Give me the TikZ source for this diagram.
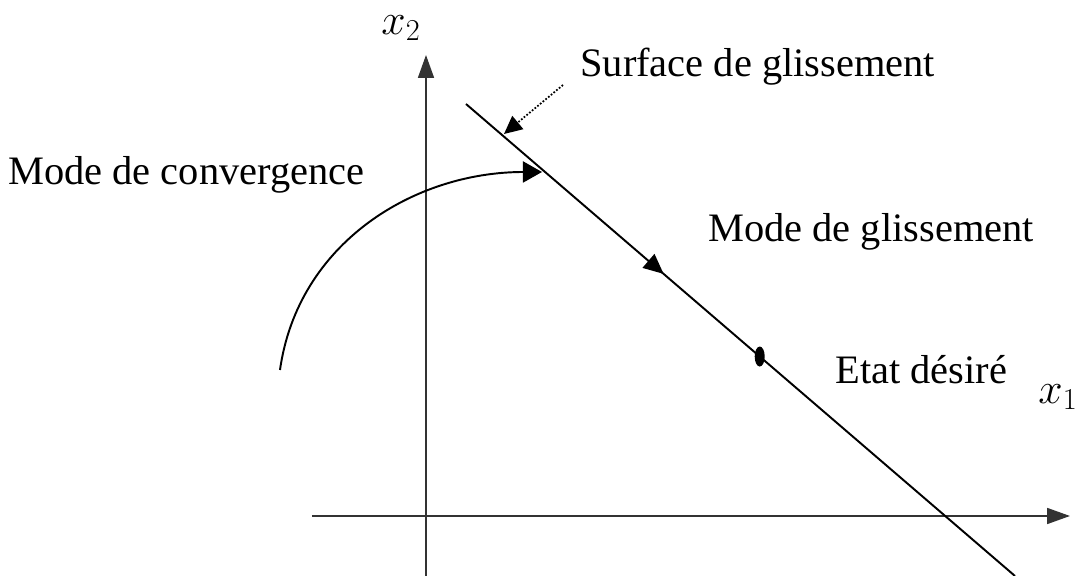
\documentclass[tikz,border=0pt]{standalone}
\usepackage{amsmath}
\usepackage{fontspec}
\setmainfont{Liberation Serif}
\usetikzlibrary{arrows.meta}
\usetikzlibrary{decorations.markings}

\begin{document}
\begin{tikzpicture}[
    lbl/.style={anchor=west, inner sep=0pt, font=\fontsize{23}{27}\selectfont},
    axis/.style={line width=1pt, draw=black!80, -{Triangle[length=4.6mm, width=3.2mm]}},
    traj/.style={line width=1.1pt},
    >=stealth
]
\useasboundingbox (-8.52,-1.2) rectangle (13.12,10.32);

% --- Axes ---
\coordinate (xs) at (-2.28,0);
\coordinate (xe) at (12.88,0);
\coordinate (ys) at (0,-1.2);
\coordinate (ye) at (0,9.22);
\draw[axis] (xs) -- (xe);
\draw[axis] (ys) -- (ye);
\node[font=\fontsize{23}{27}\selectfont] (x1) at (12.64,2.38) {$x_1$};
\node[font=\fontsize{23}{27}\selectfont] (x2) at (-0.5,9.76) {$x_2$};

% --- Sliding surface ---
\coordinate (s0) at (0.8,8.24);
\coordinate (s1) at (11.78,-1.2);
\draw[traj, postaction={decorate},
    decoration={markings, mark=at position 0.36 with {\arrow{Triangle[length=4mm, width=3.6mm]}}}]
    (s0) -- (s1) coordinate[pos=0.535] (eq);
\fill (eq) ellipse (0.1 and 0.2);

% --- Convergence trajectory ---
\coordinate (c0) at (-2.92,2.92);
\coordinate (c1) at (2.32,6.88);
\draw[traj, -{Triangle[length=3.8mm, width=4.2mm]}] (c0) to[out=82, in=180] (c1);

% --- Labels ---
\node[lbl] (surf) at (3.08,8.98) {Surface de glissement};
\node[lbl] (conv) at (-8.36,6.82) {Mode de convergence};
\node[lbl] (gliss) at (5.64,5.68) {Mode de glissement};
\node[lbl] (etat) at (8.18,2.92) {Etat désiré};

% --- Pointer to the surface ---
\coordinate (p0) at (2.74,8.62);
\coordinate (p1) at (1.56,7.64);
\draw[densely dotted, line width=1pt, -{Triangle[length=3.6mm, width=3.4mm]}] (p0) -- (p1);

\end{tikzpicture}
\end{document}
